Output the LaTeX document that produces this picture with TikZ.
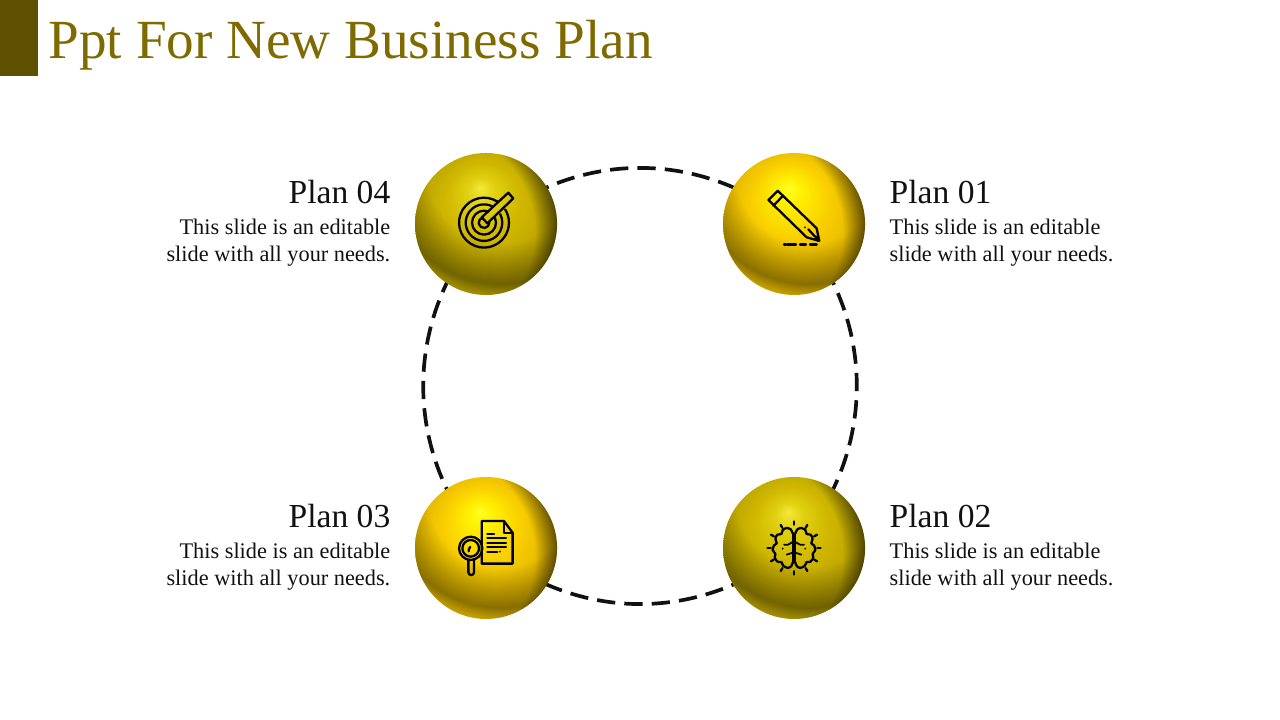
\documentclass[tikz,border=0pt]{standalone}
\usepackage{fontspec}
\setmainfont{Liberation Serif}
\usetikzlibrary{backgrounds,fadings}
\definecolor{titlegold}{HTML}{7F6A00}
\definecolor{barolive}{HTML}{5F5000}
\definecolor{inktext}{HTML}{111111}
\definecolor{ya}{HTML}{FFFF20}\definecolor{yb}{HTML}{FFEE00}\definecolor{yc}{HTML}{FAD000}\definecolor{yd}{HTML}{E4B800}\definecolor{ye}{HTML}{C09C00}
\definecolor{oa}{HTML}{F4E838}\definecolor{ob}{HTML}{E0D010}\definecolor{oc}{HTML}{D0B800}\definecolor{od}{HTML}{BCA400}\definecolor{oe}{HTML}{9A8800}
\definecolor{rimy}{HTML}{FFD820}\definecolor{rimo}{HTML}{DCC400}
\pgfdeclareradialshading{ballyellow}{\pgfpoint{-2bp}{13bp}}{color(0bp)=(ya);color(5bp)=(yb);color(13bp)=(yc);color(23bp)=(yd);color(36bp)=(ye)}
\pgfdeclareradialshading{ballolive}{\pgfpoint{-2bp}{13bp}}{color(0bp)=(oa);color(5bp)=(ob);color(13bp)=(oc);color(23bp)=(od);color(36bp)=(oe)}
\pgfdeclareradialshading{fadeband}{\pgfpoint{0bp}{0bp}}{color(0bp)=(pgftransparent!100);color(20bp)=(pgftransparent!100);color(31bp)=(pgftransparent!62);color(35bp)=(pgftransparent!100);color(70bp)=(pgftransparent!100)}
\pgfdeclareradialshading{faderight}{\pgfpoint{0bp}{0bp}}{color(0bp)=(pgftransparent!100);color(27bp)=(pgftransparent!100);color(37bp)=(pgftransparent!10);color(40bp)=(pgftransparent!0);color(70bp)=(pgftransparent!0)}
\pgfdeclareradialshading{faderim}{\pgfpoint{0bp}{0bp}}{color(0bp)=(pgftransparent!100);color(31bp)=(pgftransparent!100);color(35bp)=(pgftransparent!5);color(70bp)=(pgftransparent!0)}
\pgfdeclarefading{bandfade}{\pgfuseshading{fadeband}}
\pgfdeclarefading{rightfade}{\pgfuseshading{faderight}}
\pgfdeclarefading{rimfade}{\pgfuseshading{faderim}}
\tikzset{
  sphereA/.style={circle,minimum size=1.42cm,inner sep=0pt,outer sep=0pt,shading=ballyellow},
  sphereB/.style={circle,minimum size=1.42cm,inner sep=0pt,outer sep=0pt,shading=ballolive},
  ring/.style={line width=1.05pt,dash pattern=on 5.2pt off 2.6pt,color=inktext},
  planhead/.style={inner sep=0pt,text=inktext,font=\fontsize{9.55}{10}\selectfont},
  planbody/.style={inner sep=0pt,text=inktext,font=\fontsize{6.35}{7.7}\selectfont},
  icon/.style={x=0.00333cm,y=0.00333cm,line width=0.65pt,line cap=round,line join=round,color=black},
  glaze/.style n args={3}{fit fading=false,fading transform={shift={(#1.center)},scale=1.06,shift={(#2bp,#3bp)}}},
}
\begin{document}
\begin{tikzpicture}[x=1cm,y=1cm]
\useasboundingbox (0,0) rectangle (12.8,7.2);
% title bar
\node[fill=barolive,minimum width=0.38cm,minimum height=0.76cm,inner sep=0pt,outer sep=0pt,anchor=north west] (bar) at (0,7.2) {};
\node[anchor=base west,inner sep=0pt,text=titlegold,font=\fontsize{15.7}{16}\selectfont] (title) at (0.48,6.61) {Ppt For New Business Plan};

% spheres
\node[sphereA] (p1) at (7.94,4.96) {};
\node[sphereB] (p4) at (4.86,4.96) {};
\node[sphereA] (p3) at (4.86,1.72) {};
\node[sphereB] (p2) at (7.94,1.72) {};

% shading on top of each sphere
\foreach \n/\c in {p1/rimy,p2/rimo,p3/rimy,p4/rimo}{
  \fill[black,path fading=bandfade,glaze={\n}{4}{15}] (\n.center) circle[radius=0.71];
  \fill[black,path fading=rightfade,glaze={\n}{-14}{-2}] (\n.center) circle[radius=0.71];
  \fill[\c,path fading=rimfade,glaze={\n}{2}{12}] (\n.center) circle[radius=0.71];
}

% dashed ring behind the spheres
\begin{pgfonlayer}{background}
\draw[ring] (p4.center) to[bend left=38.5] (p1.center);
\draw[ring] (p1.center) to[bend left=41.5] (p2.center);
\draw[ring] (p2.center) to[bend left=38.5] (p3.center);
\draw[ring] (p3.center) to[bend left=41.5] (p4.center);
\end{pgfonlayer}

% labels
\node[planhead,anchor=base west] (h1) at (8.89,5.16) {Plan 01};
\node[planbody,anchor=north west,align=left] (t1) at (8.89,5.02) {This slide is an editable\\slide with all your needs.};
\node[planhead,anchor=base west] (h2) at (8.89,1.92) {Plan 02};
\node[planbody,anchor=north west,align=left] (t2) at (8.89,1.78) {This slide is an editable\\slide with all your needs.};
\node[planhead,anchor=base east] (h3) at (3.91,1.92) {Plan 03};
\node[planbody,anchor=north east,align=right] (t3) at (3.91,1.78) {This slide is an editable\\slide with all your needs.};
\node[planhead,anchor=base east] (h4) at (3.91,5.16) {Plan 04};
\node[planbody,anchor=north east,align=right] (t4) at (3.91,5.02) {This slide is an editable\\slide with all your needs.};

% target
\begin{scope}[icon,shift={(p4.center)}]
\foreach \r/\a/\b in {75/58/392,55/62/388,36/68/382,16/100/360}
  \draw (-6,4)+(\a:\r) arc[start angle=\a,end angle=\b,radius=\r];
\draw (-13,20) -- (67,94) -- (82,77) -- (4,2) -- cycle;
\end{scope}

% pencil
\begin{scope}[icon,shift={(p1.center)}]
\draw (-77,72) -- (-49,100) -- (68,-13) -- (76,-51) -- (38,-40) -- cycle;
\draw (-34,84) -- (-62,55);
\draw (43,-16) -- (63,-38);
\fill (33,-10) circle[radius=3];
\fill (60,-45) -- (76,-51) -- (70,-33) -- cycle;
\foreach \a/\b in {-30/-24,-20/6,18/36,48/68}
  \draw (\a,-62) -- (\b,-62);
\end{scope}

% document and lens
\begin{scope}[icon,shift={(p3.center)}]
\draw (-13,81) -- (54,81) -- (80,46) -- (80,-47) -- (-13,-47) -- cycle;
\draw (54,81) -- (54,46) -- (80,46);
\draw (4,42) -- (24,42);
\foreach \y in {29,16,2}
  \draw (4,\y) -- (60,\y);
\draw (4,-11) -- (34,-11);
\fill (42,-11) circle[radius=3];
\draw (-46,-1) circle[radius=35];
\draw (-46,-1) circle[radius=25];
\draw (-53,-36) -- (-53,-73) arc[start angle=180,end angle=360,radius=8.5] -- (-36,-36);
\draw (-52,-10) arc[start angle=190,end angle=130,radius=14];
\end{scope}

% brain
\begin{scope}[icon,shift={(p2.center)}]
\foreach \a in {0,30,...,330}
  \draw (\a:70) -- (\a:80);
\foreach \s in {1,-1}{
\begin{scope}[xscale=\s]
\draw plot[smooth] coordinates {(4,44) (10,56) (22,60) (34,54) (38,42) (50,40) (56,28) (52,14) (60,8) (64,-6) (56,-18) (58,-30) (48,-42) (38,-42) (32,-54) (18,-60) (8,-54) (4,-44)};
\draw (4,44) -- (4,-44);
\draw[line width=0.5pt] (4,18) -- (18,10) -- (30,10);
\draw[line width=0.5pt] (4,-14) -- (22,-20);
\fill (34,-2) circle[radius=3];
\end{scope}}
\end{scope}
\end{tikzpicture}
\end{document}
